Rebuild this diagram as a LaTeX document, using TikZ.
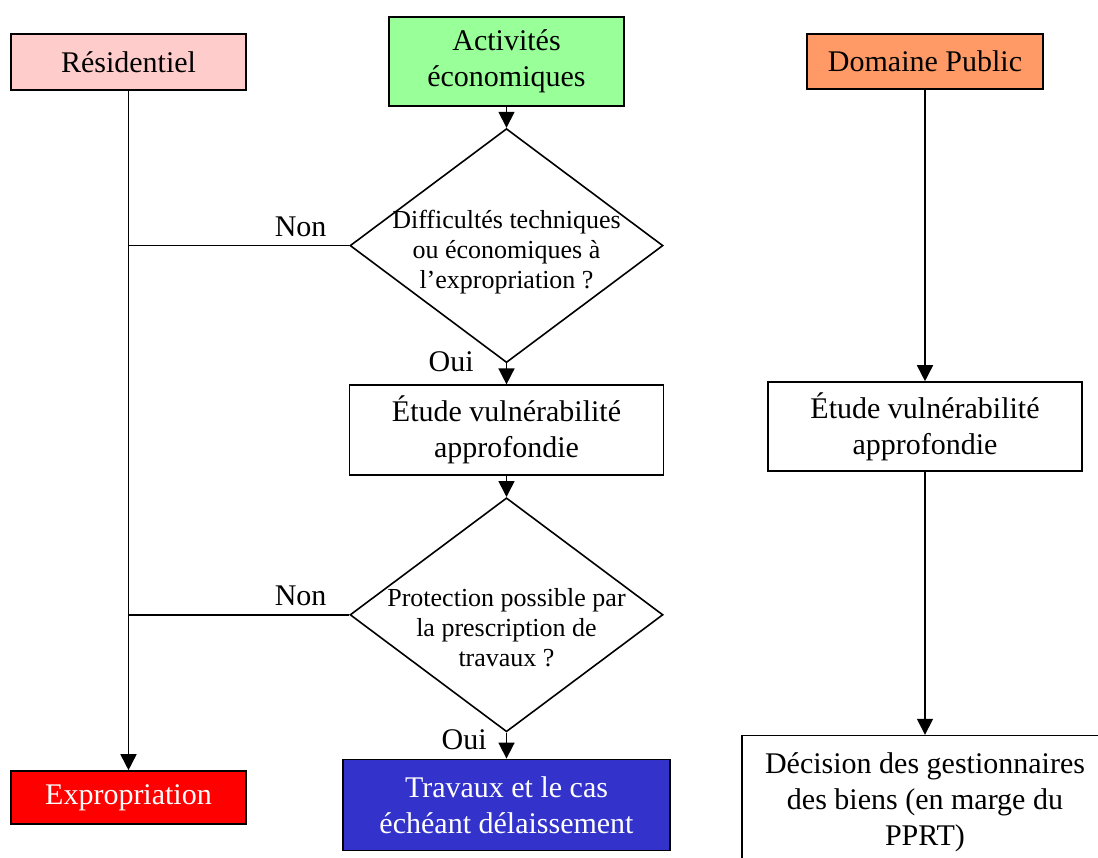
\documentclass[tikz,border=0pt]{standalone}
\usepackage{fontspec}
\setmainfont{Liberation Serif}
\usetikzlibrary{shapes.geometric,arrows.meta,positioning}

\definecolor{rose}{HTML}{FFCCCC}
\definecolor{vert}{HTML}{99FF99}
\definecolor{orange}{HTML}{FF9966}
\definecolor{rouge}{HTML}{FF0000}
\definecolor{bleu}{HTML}{3333CC}

\tikzset{
  box/.style={draw, rectangle, line width=1.6pt, align=center, inner sep=0pt,
    font=\fontsize{30}{36}\selectfont},
  decision/.style={draw, diamond, line width=1.6pt, inner sep=0pt,
    minimum width=313pt, minimum height=234pt},
  qtext/.style={align=center, inner sep=0pt, font=\fontsize{26}{30}\selectfont},
  lbl/.style={inner sep=2pt, font=\fontsize{30}{36}\selectfont},
  arr/.style={line width=1.6pt, -{Triangle[length=16pt,width=16pt]}},
  link/.style={line width=1.6pt}
}

\begin{document}
\begin{tikzpicture}[x=1pt,y=-1pt]
\clip (0,0) rectangle (1098,857);

\node[box, fill=rose, minimum width=235pt, minimum height=56pt]   (res) at (128.5,62) {Résidentiel};
\node[box, fill=vert, minimum width=235pt, minimum height=89pt]   (act) at (506.5,61.5) {Activités\\ économiques};
\node[box, fill=orange, minimum width=236pt, minimum height=55pt] (dom) at (925,61.5) {Domaine Public};

\node[decision, below=21pt of act, label={[qtext, yshift=-7pt]center:{Difficultés techniques\\ ou économiques à\\ l’expropriation ?}}] (q1) {};
\node[box, minimum width=314pt, minimum height=90pt, below=21pt of q1] (etl) {Étude vulnérabilité\\ approfondie};
\node[decision, below=21pt of etl, label={[qtext, yshift=-13pt]center:{Protection possible par\\ la prescription de\\ travaux ?}}] (q2) {};
\node[box, fill=bleu, text=white, minimum width=327pt, minimum height=91pt, below=26pt of q2] (trv) {Travaux et le cas\\ échéant délaissement};

\node[box, fill=rouge, text=white, minimum width=235pt, minimum height=53pt] (exp) at (128.5,797.5) {Expropriation};

\node[box, minimum width=314pt, minimum height=89pt] (etr) at (925,426.5) {Étude vulnérabilité\\ approfondie};
\node[box, minimum width=366pt, minimum height=134pt, below=263pt of etr] (dec) {Décision des gestionnaires\\ des biens (en marge du\\ PPRT)};

% colonne gauche
\draw[arr] (res.south) -- (exp.north);
\draw[link] (q1.west) -- node[lbl, above, pos=0.22, yshift=6pt] {Non} (res.south |- q1.west);
\draw[link] (q2.west) -- node[lbl, above, pos=0.22, yshift=6pt] {Non} (res.south |- q2.west);

% colonne centrale
\draw[arr] (act.south) -- (q1.north);
\draw[arr] (q1.south) -- node[lbl, pos=0, left=30pt, yshift=2pt] {Oui} (etl.north);
\draw[arr] (etl.south) -- (q2.north);
\draw[arr] (q2.south) -- node[lbl, pos=0.4, left=17pt, yshift=3pt] {Oui} (trv.north);

% colonne droite
\draw[arr] (dom.south) -- (etr.north);
\draw[arr] (etr.south) -- (dec.north);

\end{tikzpicture}
\end{document}
